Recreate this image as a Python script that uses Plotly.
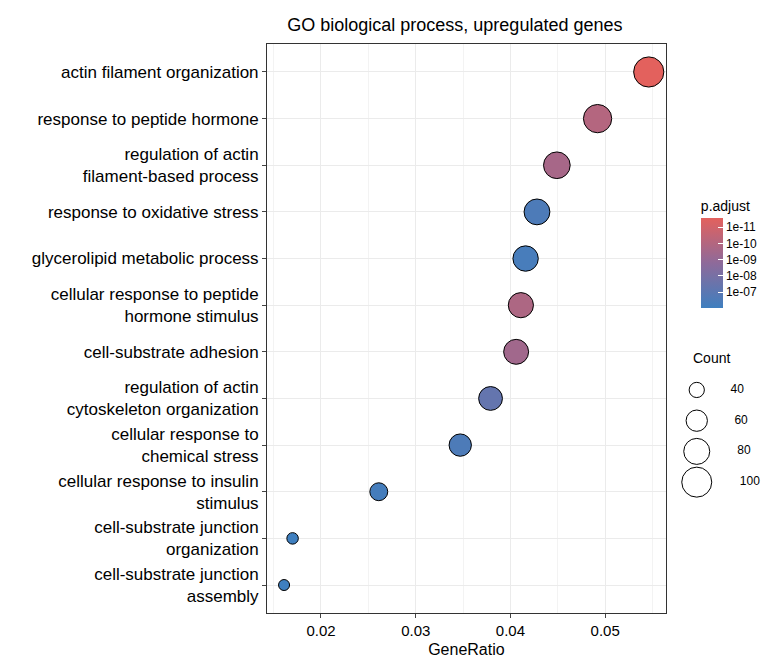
import plotly.graph_objects as go

terms = ["actin filament organization", "response to peptide hormone",
         "regulation of actin<br>filament-based process", "response to oxidative stress",
         "glycerolipid metabolic process", "cellular response to peptide<br>hormone stimulus",
         "cell-substrate adhesion", "regulation of actin<br>cytoskeleton organization",
         "cellular response to<br>chemical stress", "cellular response to insulin<br>stimulus",
         "cell-substrate junction<br>organization", "cell-substrate junction<br>assembly"]
gene_ratio = [0.0546, 0.0492, 0.0449, 0.0428, 0.0416, 0.0411, 0.0406, 0.0379, 0.0347, 0.0261, 0.0170, 0.0161]
neg_log_p = [11.55, 10.0, 9.6, 6.5, 6.3, 9.8, 9.4, 7.3, 6.5, 6.2, 6.0, 6.0]
counts = [101, 91, 83, 79, 77, 76, 75, 70, 64, 48, 31, 30]
legend_counts = [40, 60, 80, 100]
cb_vals = [11, 10, 9, 8, 7]
cb_text = ["1e-11", "1e-10", "1e-09", "1e-08", "1e-07"]


def diam(c):
    return (121 + (900 - 121) * (c - 30) / 70) ** 0.5


scale = [[0, "#3F7FBF"], [0.5, "#8E6A9A"], [1, "#E3615D"]]

fig = go.Figure()
fig.add_trace(go.Scatter(
    x=gene_ratio, y=terms, mode="markers",
    marker=dict(size=[diam(c) for c in counts], color=neg_log_p, colorscale=scale, opacity=1,
                cmin=6.0, cmax=11.55, line=dict(color="black", width=1),
                colorbar=dict(title=dict(text="p.adjust", font=dict(size=14)),
                              tickvals=cb_vals, ticktext=cb_text, x=0.846, xanchor="left",
                              y=0.633, yanchor="middle", len=0.23, lenmode="fraction",
                              thickness=22, outlinewidth=0,
                              ticks="inside", tickcolor="white", ticklen=5,
                              tickfont=dict(size=12))),
    showlegend=False))

# size legend
fig.add_trace(go.Scatter(
    x=[0] * 4, y=legend_counts, mode="markers+text", xaxis="x2", yaxis="y2",
    marker=dict(size=[diam(c) for c in legend_counts], color="white", opacity=1,
                line=dict(color="black", width=1)),
    text=[f"       {c}" for c in legend_counts], textposition="middle right",
    textfont=dict(size=12), showlegend=False, hoverinfo="skip", cliponaxis=False))

fig.update_layout(
    width=770, height=660, plot_bgcolor="white", paper_bgcolor="white",
    font=dict(family="Liberation Sans, Arial", color="black"),
    margin=dict(l=259, r=10, t=36, b=55, autoexpand=False),
    title=dict(text="GO biological process, upregulated genes", x=0.375, xanchor="center",
               xref="paper", y=0.975, yanchor="middle", font=dict(size=18)),
    xaxis=dict(domain=[0, 0.796], range=[0.0143, 0.0564], title=dict(text="GeneRatio", font=dict(size=16), standoff=5),
               tickvals=[0.02, 0.03, 0.04, 0.05], ticktext=["0.02", "0.03", "0.04", "0.05"],
               tickfont=dict(size=15), showgrid=True, gridcolor="#EBEBEB", gridwidth=1.2,
               minor=dict(tickvals=[0.015, 0.025, 0.035, 0.045, 0.055], showgrid=True, gridcolor="#F3F3F3"),
               showline=True, linecolor="#333333", mirror=True, ticks="outside", ticklen=4,
               zeroline=False, automargin=False),
    yaxis=dict(categoryorder="array", categoryarray=terms[::-1], range=[-0.6, 11.6],
               tickfont=dict(size=17), showgrid=True, gridcolor="#EBEBEB", gridwidth=1.2,
               showline=True, linecolor="#333333", mirror=True, ticks="outside", ticklen=4,
               automargin=False),
    xaxis2=dict(domain=[0.84, 1.0], range=[-0.5, 4], visible=False),
    yaxis2=dict(domain=[0.23, 0.392], range=[100, 40], visible=False, anchor="x2"),
    annotations=[dict(text="Count", xref="paper", yref="paper", x=0.846, y=0.43,
                      xanchor="left", yanchor="bottom", showarrow=False, font=dict(size=14))],
)

fig.write_html("out.html")
